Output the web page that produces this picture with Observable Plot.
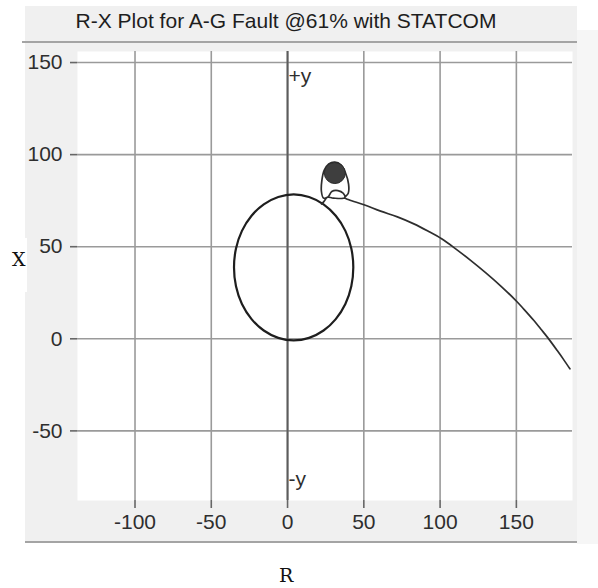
<!DOCTYPE html>
<html>
<head>
<meta charset="utf-8">
<script src="https://cdn.jsdelivr.net/npm/d3@7"></script>
<script src="https://cdn.jsdelivr.net/npm/@observablehq/plot@0.6"></script>
<style>
  html, body { margin: 0; padding: 0; background: white; }
  #wrap { position: relative; width: 598px; height: 588px; background: white; overflow: hidden; }
  .abs { position: absolute; }
  #title { left: 0; width: 572px; top: 9px; text-align: center; font: 21px "Liberation Sans", Arial, sans-serif; color: #1e1e1e; white-space: nowrap; }
  .axlab { font-family: "DejaVu Serif", "Liberation Serif", serif; font-size: 19px; color: #111; }
</style>
</head>
<body>
<div id="wrap">
  <div class="abs" style="left:25px;top:6px;width:552px;height:536px;background:#f0f0f0"></div>
  <div class="abs" style="left:577px;top:30px;width:21px;height:514px;background:#f6f6f6"></div>
  <div class="abs" style="left:22px;top:41px;width:555px;height:2px;background:#a4a4a4"></div>
  <div class="abs" style="left:25px;top:541px;width:552px;height:2px;background:#a4a4a4"></div>
  <div class="abs" style="left:8px;top:238px;width:19px;height:54px;background:#ffffff"></div>
  <div id="title" class="abs">R-X Plot for A-G Fault @61% with STATCOM</div>
  <div class="abs axlab" style="left:12px;top:248px">X</div>
  <div class="abs axlab" style="left:279px;top:564px">R</div>
  <div id="chart" class="abs" style="left:0;top:0"></div>
</div>
<script>
// Tick values
const rTicks = [-100, -50, 0, 50, 100, 150];
const xTicks = [-50, 0, 50, 100, 150];
const axisNotes = ["+y", "-y"];

// Relay characteristic (mho circle)
const circleR = [43.1, 41.8, 37.9, 31.6, 23.6, 14.1, 4.0, -6.1, -15.6, -23.6, -29.9, -33.8,
                 -35.1, -33.8, -29.9, -23.6, -15.6, -6.1, 4.0, 14.1, 23.6, 31.6, 37.9, 41.8];
const circleX = [38.8, 49.0, 58.6, 66.8, 73.0, 77.0, 78.4, 77.0, 73.0, 66.8, 58.6, 49.0,
                 38.8, 28.5, 18.9, 10.7, 4.5, 0.5, -0.9, 0.5, 4.5, 10.7, 18.9, 28.5];

// Impedance trajectory (R, X)
const trajR = [185.1, 181.0, 176.8, 170.3, 166.0, 161.5, 155.0, 150.1, 140.0, 130.0, 120.0, 110.0,
               101.0, 92.0, 82.8, 72.0, 61.0, 50.1, 40.2, 37.5, 39.8, 40.0, 38.0, 35.0, 31.0, 27.0,
               24.0, 22.5, 22.2, 23.5, 26.5, 29.0, 33.0, 36.5, 37.5, 30.0, 26.1, 23.8, 22.3];
const trajX = [-16.3, -11.3, -6.4, 0.9, 5.3, 9.9, 16.0, 20.4, 28.5, 35.8, 42.6, 49.0,
               54.3, 58.5, 62.4, 66.2, 69.3, 72.8, 75.5, 76.6, 79.0, 84.0, 90.0, 94.5, 96.0, 95.0,
               91.5, 86.0, 80.0, 76.5, 77.0, 80.0, 80.5, 79.0, 76.6, 76.4, 76.9, 74.5, 73.2];

// Settled cluster of trajectory points
const clusterR = [31.0];
const clusterX = [90.0];

const circle = circleR.map((r, i) => ({R: r, X: circleX[i]}));
const traj = trajR.map((r, i) => ({R: r, X: trajX[i]}));
const cluster = clusterR.map((r, i) => ({R: r, X: clusterX[i]}));

const fmt = d => String(d);

const chart = Plot.plot({
  width: 598,
  height: 588,
  marginLeft: 77,
  marginRight: 26,
  marginTop: 51,
  marginBottom: 88,
  style: {background: "transparent", fontFamily: "'Liberation Sans', Arial, sans-serif", fontSize: "21px", color: "#2e2e2e"},
  x: {domain: [-137.7, 186.8]},
  y: {domain: [-87.8, 156]},
  marks: [
    Plot.frame({fill: "white", stroke: null}),
    Plot.gridX(rTicks, {stroke: "#9a9a9a", strokeOpacity: 1, strokeWidth: 1.6}),
    Plot.gridY(xTicks, {stroke: "#9a9a9a", strokeOpacity: 1, strokeWidth: 1.6}),
    Plot.ruleX([0], {stroke: "#5c5c5c", strokeWidth: 2}),
    Plot.axisX(rTicks, {tickSize: 8, tickPadding: 6, label: null, strokeWidth: 1.6, fontSize: 21, stroke: "#666", tickFormat: fmt}),
    Plot.axisY(xTicks, {tickSize: 7, tickPadding: 8, label: null, strokeWidth: 1.6, fontSize: 21, stroke: "#666", tickFormat: fmt}),
    Plot.line(circle, {x: "R", y: "X", curve: "catmull-rom-closed", stroke: "#1e1e1e", strokeWidth: 2.2}),
    Plot.line(traj, {x: "R", y: "X", curve: "catmull-rom", stroke: "#2e2e2e", strokeWidth: 1.7}),
    Plot.dot(cluster, {x: "R", y: "X", r: 10.5, fill: "#3e3e3e", stroke: "#2a2a2a", strokeWidth: 1}),
    Plot.text([axisNotes[0]], {x: 0, frameAnchor: "top", dy: 17, dx: 1, textAnchor: "start", text: d => d, fontSize: 21, fill: "#2e2e2e"}),
    Plot.text([axisNotes[1]], {x: 0, frameAnchor: "bottom", dy: -15, dx: 1, textAnchor: "start", text: d => d, fontSize: 21, fill: "#2e2e2e"})
  ]
});
document.getElementById("chart").appendChild(chart);
</script>
</body>
</html>
